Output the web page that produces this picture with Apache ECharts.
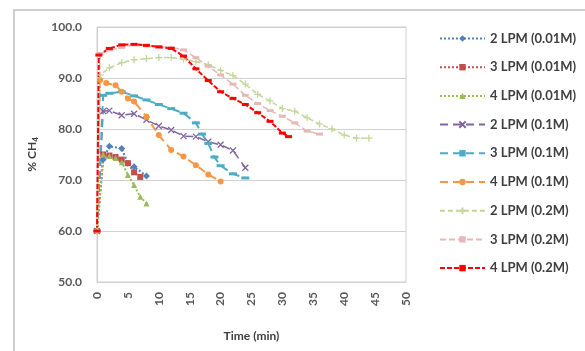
<!DOCTYPE html>
<html><head><meta charset="utf-8">
<script src="https://cdn.jsdelivr.net/npm/echarts@6/dist/echarts.min.js"></script>
<style>html,body{margin:0;padding:0;background:#fff}#c{width:585px;height:351px}</style>
</head><body><div id="c"></div>
<script>
// Series names
const seriesNames = ['2 LPM (0.01M)','3 LPM (0.01M)','4 LPM (0.01M)','2 LPM (0.1M)','3 LPM (0.1M)','4 LPM (0.1M)','2 LPM (0.2M)','3 LPM (0.2M)','4 LPM (0.2M)'];
// Time (min) and % CH4 per series
const t_2lpm_001 = [0,1,2,4,5,6,8];
const y_2lpm_001 = [60,74,76.6,76.2,73.3,72.6,70.8];
const t_3lpm_001 = [0,1,2,3,4,5,6,7];
const y_3lpm_001 = [60,75,74.8,74.5,74,73.3,71.5,70.6];
const t_4lpm_001 = [0,1,2,3,4,5,6,7,8];
const y_4lpm_001 = [60,75,74.7,74.3,73.5,71,69,66.7,65.4];
const t_2lpm_01 = [0,1,2,4,6,8,10,12,14,16,18,20,22,24];
const y_2lpm_01 = [60,83.5,83.6,82.7,83,81.8,80.6,79.8,78.6,78.5,77.5,76.9,75.8,72.4];
const t_3lpm_01 = [0,1,2,4,6,8,10,12,14,16,17,18,19,20,22,24];
const y_3lpm_01 = [60,86.6,87,87.3,86.5,85.7,84.8,84,83.1,81.2,79,77.2,74.5,72.8,71.2,70.4];
const t_4lpm_01 = [0,0.5,1.5,3,4,5,6,8,10,12,14,16,18,20];
const y_4lpm_01 = [60,89.6,89,88.6,87.3,86,85.4,82.4,78.8,75.9,74.6,72.9,71.1,69.7];
const t_2lpm_02 = [0,0.5,2,4,6,8,10,12,14,16,18,20,22,24,26,28,30,32,34,36,38,40,42,44];
const y_2lpm_02 = [60,90.6,92,93,93.6,93.8,94,94,93.7,93.2,92.6,91.5,90.5,88.8,86.8,85.5,84,83.5,82.2,81,80,78.8,78.2,78.2];
const t_3lpm_02 = [0,0.5,2,4,6,8,10,12,14,16,18,20,22,24,26,28,30,32,34,36];
const y_3lpm_02 = [60,94.8,95.5,96,96.5,96.3,96.1,96,95.5,94,92.3,90.6,88.8,86.6,85,83.6,82.5,81.2,79.6,79];
const t_4lpm_02 = [0,0.3,2,4,6,8,10,12,14,16,18,20,22,24,26,28,30,31];
const y_4lpm_02 = [60,94.5,95.8,96.5,96.6,96.4,96.1,95.8,94.3,91.8,89.5,87.3,86,84.8,83.2,81.5,79.2,78.5];
// Axis ticks
const xTicks = [0,5,10,15,20,25,30,35,40,45,50];
const yTicks = [50,60,70,80,90,100];

const pairs = (t,y)=>t.map((v,i)=>[v,y[i]]);
const XPATH = 'path://M0,0L10,10M10,0L0,10';
const PLUS = 'path://M5,0L5,10M0,5L10,5';
const DASH = 'path://M0,0L10,0L10,3.5L0,3.5Z';

const specs = [
  {t:t_2lpm_001,y:y_2lpm_001,color:'#4f81bd',type:'dotted',sym:'diamond',size:7,w:2},
  {t:t_3lpm_001,y:y_3lpm_001,color:'#c0504d',type:'dotted',sym:'rect',size:6,w:2},
  {t:t_4lpm_001,y:y_4lpm_001,color:'#9bbb59',type:'dotted',sym:'triangle',size:6,w:2},
  {t:t_2lpm_01,y:y_2lpm_01,color:'#8064a2',type:[8,5],sym:XPATH,size:6,stroke:true,w:1.5},
  {t:t_3lpm_01,y:y_3lpm_01,color:'#4bacc6',type:[8,5],sym:DASH,size:[8,3],w:2},
  {t:t_4lpm_01,y:y_4lpm_01,color:'#f79646',type:[8,5],sym:'circle',size:6,w:2},
  {t:t_2lpm_02,y:y_2lpm_02,color:'#c3d69b',type:[5,3],sym:PLUS,size:7,stroke:true,w:1.5},
  {t:t_3lpm_02,y:y_3lpm_02,color:'#e6b9b8',type:[6,3],sym:DASH,size:[7,3],w:1.5},
  {t:t_4lpm_02,y:y_4lpm_02,color:'#ff0000',type:[5,2],sym:DASH,size:[7,3],w:2}
];

const series = specs.map((s,i)=>({
  name: seriesNames[i],
  type:'line',
  data: pairs(s.t,s.y),
  symbol: s.sym,
  symbolSize: s.size,
  showAllSymbol:true,
  lineStyle:{color:s.color,width:s.w,type:s.type},
  itemStyle: s.stroke ? {color:s.color,borderColor:s.color,borderWidth:1.3} : {color:s.color},
  emphasis:{disabled:true},
  animation:false
}));

const chart = echarts.init(document.getElementById('c'));
chart.setOption({
  animation:false,
  backgroundColor:'#fff',
  graphic:[{type:'rect',shape:{x:14,y:10,width:600,height:400},style:{fill:'none',stroke:'#bfbfbf',lineWidth:1.5},silent:true}],
  grid:{left:97,top:27,right:179,bottom:69,show:true,borderColor:'#d0d0d0',borderWidth:1},
  legend:{
    orient:'vertical',left:434,top:27,
    itemWidth:45,itemHeight:8,itemGap:15.7,
    textStyle:{fontFamily:'Lato',fontWeight:'bold',fontSize:13,color:'#404040'},
    data:seriesNames
  },
  xAxis:{
    type:'value',min:xTicks[0],max:xTicks[xTicks.length-1],interval:5,
    name:'Time (min)',nameLocation:'middle',nameGap:48,
    nameTextStyle:{fontFamily:'Lato',fontWeight:'bold',fontSize:12,color:'#404040'},
    axisLine:{lineStyle:{color:'#d0d0d0'}},axisTick:{show:false},
    splitLine:{show:false},
    axisLabel:{rotate:90,margin:10,fontFamily:'Lato',fontWeight:'bold',fontSize:12,color:'#595959'}
  },
  yAxis:{
    type:'value',min:yTicks[0],max:yTicks[yTicks.length-1],interval:10,
    name:'% CH{sub|4}',nameLocation:'middle',nameGap:58,nameRotate:90,
    nameTextStyle:{fontFamily:'Lato',fontWeight:'bold',fontSize:12,color:'#404040',
      rich:{sub:{fontFamily:'Lato',fontWeight:'bold',fontSize:8,color:'#404040',verticalAlign:'bottom',padding:[6,0,0,0]}}},
    axisLine:{show:true,lineStyle:{color:'#d0d0d0'}},axisTick:{show:false},
    splitLine:{lineStyle:{color:'#d0d0d0'}},
    axisLabel:{margin:15,formatter:v=>v.toFixed(1),fontFamily:'Lato',fontWeight:'bold',fontSize:12,color:'#595959'}
  },
  series:series
});
</script></body></html>
